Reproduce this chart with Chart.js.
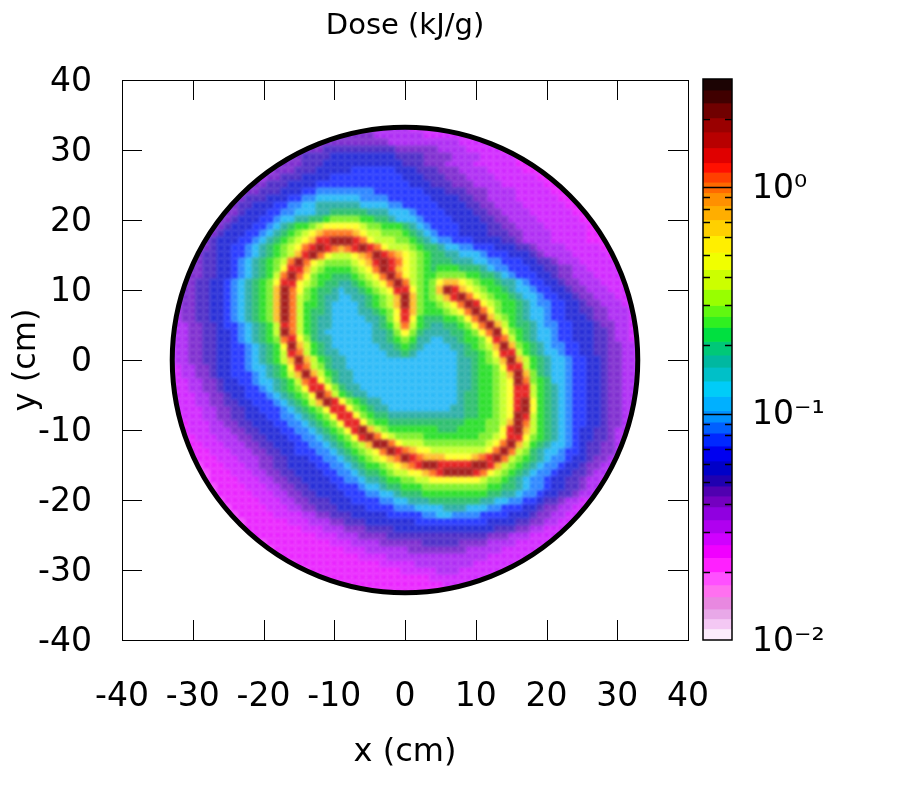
<!DOCTYPE html>
<html>
<head>
<meta charset="utf-8">
<title>Dose map</title>
<script src="https://cdn.jsdelivr.net/npm/chart.js@4"></script>
<style>
  body { margin: 0; background: #fff; }
  #wrap { position: relative; width: 900px; height: 800px; }
  canvas { position: absolute; left: 0; top: 0; }
</style>
</head>
<body>
<div id="wrap">
  <canvas id="mapChart" width="900" height="800"></canvas>
  <canvas id="barChart" width="900" height="800"></canvas>
</div>
<script>
const axisTicks = [-40, -30, -20, -10, 0, 10, 20, 30, 40];
const doseTicks = [0.01, 0.1, 1];
const doseLabels = ['10\u207B\u00B2', '10\u207B\u00B9', '10\u2070'];
const minorTicks = [0.02, 0.03, 0.04, 0.05, 0.06, 0.07, 0.08, 0.09, 0.2, 0.3, 0.4, 0.5, 0.6, 0.7, 0.8, 0.9, 2];

// colour of each dose level in the map, low to high
const levelColors = ['#f458ff', '#ea28ff', '#d22cff', '#b030f4', '#8030d0', '#5030c8', '#2a30d8', '#2a3cff', '#3088ff', '#30bcf8',
  '#30b0a8', '#30c070', '#30e030', '#80f030', '#c8ff30', '#ffff30', '#ffc030', '#ff7a28', '#e82828', '#a52020'];

// colour bar bands, top to bottom
const barEdges = [3, 2.68, 2.35, 2.02, 1.75, 1.49, 1.28, 1.16, 1.05, 0.944, 0.827, 0.717, 0.61, 0.514, 0.432, 0.353, 0.3, 0.268, 0.24, 0.208, 0.181, 0.16,
  0.139, 0.119, 0.103, 0.0916, 0.0819, 0.0718, 0.0617, 0.0535, 0.0478, 0.0432, 0.0387, 0.0339, 0.0297, 0.0263, 0.0231, 0.02, 0.0175, 0.0155, 0.0137, 0.0124, 0.0112, 0.01];
const barColors = ['#1c0404', '#400000', '#700000', '#9a0000', '#b80000', '#e00000', '#ff1000', '#ff4000', '#ff6a00', '#ff9000', '#ffae00', '#ffd000', '#ffef00',
  '#f0ff00', '#ccff00', '#98ff00', '#60f810', '#30f020', '#00e040', '#00c878', '#00b8a0', '#00c0c8', '#00ccf8', '#00b0ff', '#0090ff', '#0060ff', '#0028ff',
  '#0000f0', '#0000c8', '#2000b0', '#5000b0', '#7400c0', '#9000e0', '#b000f0', '#d000ff', '#f000ff', '#ff20ff', '#ff50ff', '#ff70f0', '#e888e0', '#e8a8e8', '#f4c8f4', '#fcecfc'];

// dose level per 1 cm cell. First row is y = 33, last is y = -33, each row centred on x = 0
const doseRows = [
[3,3,3,3,3,3,3,3,3,3,2,2,2,2,2,2,2,2,2],
[4,4,4,4,4,4,4,4,3,3,3,3,3,3,3,2,2,2,2,2,2,1,1,1,1],
[4,4,4,4,4,4,4,4,4,4,4,4,3,3,3,3,3,3,3,3,3,3,2,2,2,2,2,1,1],
[4,4,4,4,4,5,5,5,5,5,5,5,5,5,5,4,4,4,4,4,4,3,3,3,3,2,2,2,2,2,1,1,1],
[4,4,4,4,5,5,5,5,6,6,6,6,6,6,6,6,6,5,5,5,5,4,4,4,4,3,3,3,3,2,2,2,2,2,1,1,1],
[3,3,3,4,4,4,5,5,5,6,6,6,6,6,6,6,6,6,6,6,5,5,5,4,4,4,3,3,3,3,2,2,2,2,2,2,1,1,1,1,1],
[3,3,3,4,4,4,5,5,5,6,6,6,6,6,7,7,7,7,7,7,6,6,6,5,5,5,4,4,4,3,3,3,3,2,2,2,2,2,1,1,1,1,1],
[3,3,3,4,4,5,5,5,6,6,6,6,7,7,7,7,7,7,7,7,7,7,6,6,6,5,5,5,4,4,4,3,3,3,3,2,2,2,2,2,2,1,1,1,1],
[3,3,3,4,4,5,5,5,6,6,6,6,7,7,7,7,7,7,7,7,7,7,7,7,7,6,6,6,5,5,5,4,4,4,3,3,3,3,2,2,2,2,2,2,1,1,1,1,1],
[3,3,3,4,4,5,5,5,6,6,6,7,7,8,8,8,8,8,8,8,8,7,7,7,7,7,7,7,6,6,6,5,5,5,4,4,4,3,3,3,3,2,2,2,2,2,1,1,1,1,1],
[3,3,4,4,5,5,5,6,6,6,7,7,8,8,9,9,9,9,9,9,8,8,8,8,7,7,7,7,7,7,6,6,6,6,5,5,4,4,3,3,3,3,2,2,2,2,2,2,1,1,1,1,1],
[3,4,4,5,5,6,6,6,7,7,8,8,9,9,10,10,10,10,10,10,9,9,9,9,8,8,7,7,7,7,7,6,6,6,6,5,5,4,4,3,3,3,3,2,2,2,2,2,2,1,1,1,1],
[3,3,4,4,5,6,6,6,7,7,8,8,9,9,9,10,10,11,11,11,11,11,10,10,10,9,9,9,8,7,7,7,7,6,6,6,6,5,5,4,4,3,3,3,3,2,2,2,2,2,2,1,1,1,1],
[3,3,4,4,5,6,6,6,7,7,8,9,9,10,10,11,11,12,13,13,13,13,12,12,11,11,10,9,9,9,8,7,7,7,7,6,6,6,6,5,5,4,4,3,3,3,3,2,2,2,2,2,2,1,1,1,1],
[3,3,4,4,5,6,6,6,7,7,8,9,10,11,12,12,13,14,15,15,15,15,15,14,13,13,12,12,12,11,10,9,8,7,7,7,7,6,6,6,6,5,5,4,4,3,3,3,3,2,2,2,2,2,2,1,1,1,1],
[3,3,4,5,6,6,6,7,7,8,9,10,11,12,13,14,15,16,17,17,17,17,16,15,14,14,13,13,13,12,11,10,9,8,7,7,7,6,6,6,6,5,5,5,4,4,3,3,3,3,2,2,2,2,2,1,1,1,1],
[3,3,4,5,6,6,6,7,7,8,9,10,11,12,13,14,15,16,18,18,19,19,19,18,17,15,14,14,14,13,13,12,11,10,9,8,8,7,7,7,6,6,6,6,5,5,4,3,3,3,3,2,2,2,2,2,1,1,1,1,1],
[3,4,4,5,6,6,7,7,8,9,10,11,12,13,14,15,17,18,19,18,17,16,17,18,19,18,17,15,14,14,14,13,12,11,11,10,9,9,8,8,7,7,7,6,6,6,5,5,4,3,3,3,3,2,2,2,2,2,1,1,1],
[3,3,4,5,5,6,6,7,7,8,9,10,11,12,13,14,16,18,19,17,15,14,14,14,15,16,17,19,18,17,16,15,14,13,12,11,11,10,10,9,9,9,8,7,7,7,6,6,6,5,4,3,3,3,3,2,2,2,2,2,1,1,1],
[3,4,4,5,5,6,6,7,8,9,10,11,12,13,14,17,19,17,15,14,13,13,13,13,14,15,16,18,19,18,17,15,14,13,12,11,11,11,10,10,10,9,9,8,8,7,7,7,6,6,5,5,4,3,3,3,2,2,2,2,2,1,1],
[3,3,4,4,5,5,6,6,7,8,9,10,11,12,13,15,18,18,16,14,13,12,12,12,12,13,14,15,17,19,18,16,15,14,13,12,11,12,12,12,11,11,11,10,9,8,8,7,7,7,6,6,5,5,4,4,3,3,2,2,2,2,2,1,1],
[3,3,4,4,5,5,6,6,7,8,9,10,11,12,14,17,19,17,15,13,12,12,11,11,11,12,13,14,15,17,19,17,15,14,13,12,12,13,13,13,13,12,12,11,11,10,9,8,7,7,7,6,6,5,4,4,3,3,3,2,2,2,2,1,1],
[3,3,4,4,5,5,6,6,7,8,9,10,11,12,13,15,18,18,15,14,13,12,11,11,10,10,11,12,13,14,15,17,19,17,14,13,12,13,15,16,16,15,14,13,12,12,11,10,10,9,8,7,7,6,6,5,4,4,3,3,3,2,2,2,1,1,1],
[3,3,4,4,5,5,6,6,7,8,9,10,11,12,13,16,19,17,15,13,12,11,11,10,9,10,10,11,12,13,14,15,18,18,15,13,12,13,16,19,18,16,15,14,13,12,12,11,10,9,9,8,7,7,6,6,5,4,4,3,3,3,2,2,2,1,1],
[3,3,4,4,5,5,6,6,7,8,9,10,11,12,13,16,19,17,14,13,12,11,10,10,9,9,10,10,11,12,13,14,16,19,16,13,12,13,14,16,18,19,17,15,14,13,12,12,11,10,9,9,8,7,7,6,6,5,4,4,3,3,3,2,2,2,1],
[3,3,4,4,5,5,6,6,7,8,9,10,11,12,13,16,19,17,14,12,12,11,10,9,9,9,9,10,11,12,13,14,16,19,16,13,12,12,13,14,15,17,19,18,15,14,13,12,12,11,10,9,8,8,7,7,6,6,5,4,4,3,3,3,2,2,2],
[3,3,3,4,4,5,5,6,6,7,8,9,10,11,12,13,16,19,17,14,12,11,11,10,9,9,9,9,10,10,11,12,13,15,18,16,13,12,12,12,13,14,15,17,19,17,15,13,12,12,11,10,9,9,8,7,7,6,6,5,5,4,4,3,3,3,2,2,2],
[3,3,3,4,4,5,5,6,6,7,8,9,10,11,12,13,16,19,17,14,12,11,10,10,9,9,9,9,9,10,10,11,13,15,18,15,12,11,11,11,12,12,13,15,17,19,16,14,13,12,11,10,9,9,8,7,7,6,6,6,5,4,4,3,3,3,2,2,2],
[3,3,3,3,4,4,5,5,6,7,7,8,9,10,11,12,14,18,17,14,12,11,10,10,9,9,9,9,9,9,10,11,12,14,17,14,12,11,10,10,11,11,12,13,15,17,19,16,14,12,11,11,10,9,8,8,7,7,6,6,6,5,4,4,3,3,2,2,2],
[3,3,3,3,4,4,5,5,6,6,7,8,9,10,11,12,14,19,17,14,12,11,10,9,9,9,9,9,9,9,10,10,11,13,15,13,11,10,10,10,10,11,11,12,13,15,17,19,15,13,12,11,10,9,9,8,7,7,6,6,6,5,5,4,3,3,2,2,2],
[2,3,3,3,4,4,5,5,6,6,7,8,9,10,11,12,13,17,18,15,13,11,10,10,9,9,9,9,9,9,10,10,11,12,13,12,10,10,9,9,10,10,11,12,12,13,15,18,17,14,12,11,10,9,9,8,7,7,6,6,6,5,5,4,3,3,2,2,2],
[2,2,3,3,4,4,5,5,6,6,7,7,8,9,10,11,12,15,19,16,14,12,11,10,9,9,9,9,9,9,9,10,10,11,12,11,10,9,9,9,9,10,10,11,12,13,14,16,19,16,13,12,11,10,9,8,8,7,7,6,6,5,5,4,4,3,3,2,2],
[2,2,3,3,4,4,5,5,6,6,7,7,8,9,10,11,12,14,18,17,14,12,11,10,10,9,9,9,9,9,9,9,10,10,11,10,9,9,9,9,9,9,10,11,11,12,13,15,18,18,14,12,11,10,9,9,8,7,7,6,6,5,5,4,4,3,3,2,2],
[2,2,3,3,4,4,5,5,6,6,7,7,8,9,10,11,12,14,16,19,16,14,12,11,10,10,9,9,9,9,9,9,9,9,9,9,9,9,9,9,9,9,10,10,11,12,13,14,16,19,16,14,12,11,10,9,9,8,7,7,6,6,5,4,4,3,3,2,2],
[2,2,2,3,3,4,4,5,6,6,7,7,8,9,9,10,11,12,15,18,17,14,13,11,10,10,9,9,9,9,9,9,9,9,9,9,9,9,9,9,9,9,10,10,11,12,12,13,15,18,18,14,12,11,10,9,9,8,7,7,6,6,5,4,4,3,3,3,2],
[2,2,2,3,3,4,4,5,6,6,7,7,7,8,9,10,11,12,14,16,19,16,14,12,11,10,10,9,9,9,9,9,9,9,9,9,9,9,9,9,9,9,10,10,11,12,12,13,14,16,19,16,13,11,10,9,9,8,7,7,6,6,5,4,4,3,3,3,2],
[2,2,2,2,3,3,4,4,5,6,6,7,7,8,9,9,10,11,12,14,17,18,15,13,11,10,10,9,9,9,9,9,9,9,9,9,9,9,9,9,9,9,10,10,11,12,12,13,14,15,19,17,13,12,11,9,9,8,7,7,6,6,5,4,4,3,3,3,3],
[2,2,2,2,3,3,4,4,5,6,6,6,7,7,8,9,10,11,12,13,15,18,18,15,13,11,10,10,9,9,9,9,9,9,9,9,9,9,9,9,9,9,10,10,11,12,12,13,14,15,18,18,14,12,11,10,9,8,7,7,6,6,5,4,4,3,3,3,3],
[2,2,2,2,2,3,3,4,4,5,6,6,7,7,7,8,9,10,11,12,13,15,19,17,14,12,11,10,10,9,9,9,9,9,9,9,9,9,9,9,9,9,10,11,11,12,12,13,14,15,18,18,14,12,11,10,9,8,7,7,6,6,5,4,4,3,3,3,3],
[1,2,2,2,2,3,3,4,4,5,5,6,6,7,7,7,8,9,10,11,12,14,16,19,18,15,13,12,11,10,10,9,9,9,9,9,9,9,9,9,9,9,10,11,11,12,12,13,14,15,18,19,15,12,11,10,9,8,7,7,6,6,5,4,4,3,3,3,3],
[1,1,2,2,2,2,3,3,4,4,5,5,6,6,7,7,7,8,9,10,11,12,13,15,18,18,15,13,12,11,10,10,9,9,9,9,9,9,9,9,9,10,10,11,11,12,12,13,14,15,18,19,15,12,11,10,9,8,7,7,6,6,5,4,4,3,3,3,3],
[1,1,2,2,2,3,3,4,4,5,5,6,6,6,7,7,8,8,9,10,11,12,13,15,18,18,15,13,12,11,11,10,10,10,10,10,10,10,10,10,10,10,11,11,12,12,13,14,15,19,18,14,12,11,10,9,8,7,7,6,6,5,4,4,3,3,3],
[1,1,1,2,2,2,3,3,4,4,5,5,6,6,6,7,7,8,8,9,10,11,12,13,15,18,18,15,13,12,12,11,11,11,11,11,11,11,11,11,11,11,12,12,12,13,13,14,16,19,17,14,12,11,10,9,8,7,7,6,6,5,4,4,3,3,3],
[1,1,1,2,2,2,3,3,3,4,4,5,5,6,6,6,7,7,8,8,9,10,11,12,13,15,18,19,16,14,13,12,12,12,12,12,12,12,11,11,11,12,12,12,12,13,13,15,18,19,16,14,12,11,10,9,8,7,6,6,5,5,4,3,3,3,2],
[1,1,1,1,2,2,2,3,3,3,4,4,5,5,6,6,6,7,7,8,8,9,10,11,12,13,15,18,19,17,15,14,13,13,13,13,12,12,12,12,12,12,12,12,13,13,14,15,18,18,15,13,12,11,10,9,8,7,6,6,5,5,4,3,3,3,2],
[1,1,1,1,2,2,2,3,3,3,4,4,5,5,6,6,6,7,7,8,8,9,10,11,12,13,14,16,19,19,17,15,14,14,14,13,13,13,13,13,13,13,13,13,14,15,17,19,16,14,12,11,10,9,9,8,7,6,5,5,4,4,3,3,2],
[1,1,1,1,1,2,2,2,3,3,3,4,4,5,5,6,6,7,7,7,8,8,9,10,11,12,13,14,15,17,19,18,17,16,15,15,14,14,14,14,14,14,14,14,15,17,19,17,14,13,11,10,9,9,8,7,7,6,5,5,4,4,3,3,2],
[1,1,1,1,1,2,2,2,3,3,3,4,4,5,5,6,6,6,7,7,8,8,9,10,11,12,13,14,15,16,17,19,18,17,16,16,16,15,15,15,15,16,17,18,19,17,14,13,12,11,10,9,8,8,7,6,6,5,4,4,3,3,2],
[0,0,0,1,1,1,2,2,2,3,3,4,4,5,5,6,6,6,6,7,7,8,8,9,10,11,12,12,13,14,15,16,17,18,19,19,18,18,18,18,18,19,19,18,16,14,13,12,11,10,9,8,8,7,6,6,5,4,4,3,3,2,2],
[0,0,0,1,1,1,2,2,2,3,3,4,4,5,5,6,6,6,6,7,7,8,8,9,10,11,11,12,13,14,14,15,15,16,17,18,19,19,19,19,18,17,15,14,13,12,11,10,9,8,8,7,6,6,5,5,4,3,3,2,2],
[0,0,0,1,1,1,1,2,2,2,3,3,4,4,5,5,6,6,6,6,7,7,8,8,9,10,10,11,12,12,13,13,14,14,15,15,15,15,15,15,15,14,13,13,12,11,10,9,8,8,7,6,6,5,5,4,3,3,2,2,2],
[0,0,0,1,1,1,1,2,2,2,3,3,4,4,5,5,6,6,6,6,7,7,7,8,9,9,10,11,11,12,12,12,13,13,13,13,13,13,13,13,13,12,12,11,11,10,9,8,8,7,6,6,5,5,4,3,3,2,2],
[0,0,0,1,1,1,1,1,2,2,2,3,3,4,4,5,5,6,6,6,6,7,7,7,8,8,9,9,10,11,11,11,12,12,12,12,12,12,12,12,12,11,11,10,10,9,8,8,7,6,6,5,5,4,3,3,2,2,2],
[0,0,0,1,1,1,1,1,2,2,2,3,3,4,4,5,5,5,6,6,6,7,7,7,7,8,8,9,9,10,10,10,11,11,11,11,11,11,11,10,10,9,9,8,8,7,7,6,5,5,4,3,3,2,2,2,2],
[0,0,0,1,1,1,1,1,2,2,2,3,3,4,4,5,5,5,6,6,6,6,7,7,7,7,8,8,8,9,9,9,9,10,10,10,9,9,9,8,8,7,7,7,6,6,5,4,4,3,3,2,2,2,2],
[0,0,0,1,1,1,1,1,2,2,2,2,3,3,4,4,5,5,5,6,6,6,6,6,7,7,7,7,7,8,8,9,9,8,8,8,8,7,7,7,7,6,6,6,5,4,4,3,3,2,2,2,2],
[0,0,0,1,1,1,1,1,1,2,2,2,3,3,3,4,4,5,5,5,6,6,6,6,6,6,6,7,7,7,7,7,7,7,7,7,7,6,6,6,6,5,5,4,4,3,3,2,2,2,2],
[0,0,0,1,1,1,1,1,1,1,1,2,2,2,3,3,3,4,4,4,5,5,5,5,6,6,6,6,6,6,6,6,6,6,6,6,6,6,5,5,5,4,4,3,3,2,2,2,2,2,2],
[0,0,0,1,1,1,1,1,1,1,1,1,2,2,2,3,3,3,4,4,4,4,5,5,5,5,5,5,5,5,5,5,5,5,5,5,4,4,4,3,3,3,2,2,2,2,2,2,2],
[0,0,0,1,1,1,1,1,1,1,1,1,2,2,2,3,3,3,3,4,4,4,4,4,4,5,5,5,5,5,4,4,4,4,3,3,3,3,2,2,2,2,2,2,2],
[0,0,0,1,1,1,1,1,1,1,1,1,1,2,2,2,3,3,3,3,3,3,4,4,4,4,4,4,4,4,3,3,3,3,3,2,2,2,2,2,2,2,2],
[0,0,0,1,1,1,1,1,1,1,1,1,1,1,2,2,2,2,3,3,3,3,3,3,3,3,3,3,3,3,3,3,2,2,2,2,2,2,2,2,2],
[0,0,0,1,1,1,1,1,1,1,1,1,1,1,1,2,2,2,2,2,3,3,3,3,3,3,3,3,2,2,2,2,2,2,2,2,2],
[0,0,0,1,1,1,1,1,1,1,1,1,1,1,1,1,2,2,2,2,2,3,3,3,2,2,2,2,2,2,2,2,2],
[1,1,1,1,1,1,1,1,1,1,1,1,1,1,1,1,1,1,2,2,2,2,2,2,2,2,2,2,2],
[1,1,1,1,1,1,1,1,1,1,1,1,1,1,1,1,1,1,2,2,2,2,2,2,2],
[1,1,1,1,1,1,1,1,1,1,1,1,1,1,1,1,1,1,1]
];
const topRowY = 33;
const discRadius = 32.9;

const fontName = "'DejaVu Sans', sans-serif";

const cells = [];
doseRows.forEach((row, r) => {
    const half = (row.length - 1) / 2;
    row.forEach((level, i) => cells.push({ x: i - half, y: topRowY - r, level }));
});
// low doses first so the thin ridge stays on top
cells.sort((a, b) => a.level - b.level);

// ring + inward ticks, gnuplot style
const framePlugin = {
    id: 'frame',
    beforeDatasetDraw(chart, args) {
        if (args.index !== 1) return;
        const { ctx, scales: { x, y } } = chart;
        const cx = x.getPixelForValue(0), cy = y.getPixelForValue(0);
        ctx.save();
        ctx.beginPath();
        ctx.arc(cx, cy, discRadius * x.width / 80, 0, Math.PI * 2);
        ctx.clip();
        ctx.filter = 'blur(1.5px)';
    },
    afterDatasetDraw(chart, args) {
        if (args.index === 1) chart.ctx.restore();
    },
    afterDraw(chart) {
        const { ctx, chartArea: a, scales: { x, y } } = chart;
        ctx.save();
        ctx.strokeStyle = '#000';
        ctx.lineWidth = 1;
        ctx.beginPath();
        axisTicks.slice(1, -1).forEach(v => {
            const px = Math.round(x.getPixelForValue(v)) + 0.5;
            const py = Math.round(y.getPixelForValue(v)) + 0.5;
            ctx.moveTo(px, a.bottom); ctx.lineTo(px, a.bottom - 20);
            ctx.moveTo(px, a.top); ctx.lineTo(px, a.top + 20);
            ctx.moveTo(a.left, py); ctx.lineTo(a.left + 20, py);
            ctx.moveTo(a.right, py); ctx.lineTo(a.right - 20, py);
        });
        ctx.stroke();
        ctx.strokeRect(a.left + 0.5, a.top + 0.5, a.right - a.left, a.bottom - a.top);
        ctx.restore();
    }
};

const barFramePlugin = {
    id: 'barFrame',
    afterDraw(chart) {
        const { ctx, chartArea: a, scales: { y } } = chart;
        ctx.save();
        ctx.strokeStyle = '#000';
        ctx.lineWidth = 1.5;
        ctx.beginPath();
        [0.1, 1].forEach(v => {
            const py = Math.round(y.getPixelForValue(v)) + 0.5;
            ctx.moveTo(a.left, py); ctx.lineTo(a.right, py);
        });
        minorTicks.forEach(v => {
            const py = Math.round(y.getPixelForValue(v)) + 0.5;
            ctx.moveTo(a.left, py); ctx.lineTo(a.left + 7, py);
            ctx.moveTo(a.right, py); ctx.lineTo(a.right - 7, py);
        });
        ctx.stroke();
        ctx.strokeRect(a.left, a.top, a.right - a.left, a.bottom - a.top);
        ctx.restore();
    }
};

new Chart(document.getElementById('mapChart'), {
    type: 'scatter',
    data: {
        datasets: [
            {
                // black rim of the disc
                data: [{ x: 0, y: 0 }],
                pointStyle: 'circle',
                pointRadius: ctx => discRadius * ctx.chart.scales.x.width / 80,
                pointBorderColor: '#000',
                pointBorderWidth: 5,
                pointBackgroundColor: 'rgba(0,0,0,0)'
            },
            {
                data: cells,
                pointStyle: 'rect',
                pointRadius: ctx => (ctx.chart.scales.x.width / 80 + 1.5) / Math.SQRT2,
                pointBorderWidth: 0,
                pointBackgroundColor: ctx => levelColors[ctx.raw.level]
            }
        ]
    },
    options: {
        responsive: false,
        animation: false,
        events: [],
        layout: { padding: { right: 212 } },
        plugins: {
            legend: { display: false },
            tooltip: { enabled: false },
            title: {
                display: true,
                text: 'Dose (kJ/g)',
                fullSize: false,
                color: '#000',
                font: { family: fontName, size: 29, weight: 'normal', lineHeight: 1.2 },
                padding: { top: 9, bottom: 36.2 }
            }
        },
        scales: {
            x: {
                type: 'linear', min: -40, max: 40,
                grid: { display: false, drawTicks: false },
                border: { display: false },
                afterFit: s => { s.height = 160; },
                afterBuildTicks: s => { s.ticks = axisTicks.map(value => ({ value })); },
                ticks: { color: '#000', padding: 38, maxRotation: 0, autoSkip: false, font: { family: fontName, size: 33 } },
                title: { display: true, text: 'x (cm)', color: '#000', font: { family: fontName, size: 32 }, padding: { bottom: 28 } }
            },
            y: {
                type: 'linear', min: -40, max: 40,
                grid: { display: false, drawTicks: false },
                border: { display: false },
                afterFit: s => { s.width = 122; },
                afterBuildTicks: s => { s.ticks = axisTicks.map(value => ({ value })); },
                ticks: { color: '#000', padding: 30, labelOffset: 2.5, autoSkip: false, font: { family: fontName, size: 33 } },
                title: { display: true, text: 'y (cm)', color: '#000', font: { family: fontName, size: 32 }, padding: { top: 7 } }
            }
        }
    },
    plugins: [framePlugin]
});

new Chart(document.getElementById('barChart'), {
    type: 'bar',
    data: {
        labels: ['dose'],
        datasets: barColors.map((color, i) => ({
            data: [[barEdges[i + 1], barEdges[i]]],
            backgroundColor: color,
            barPercentage: 1,
            categoryPercentage: 1
        }))
    },
    options: {
        responsive: false,
        animation: false,
        events: [],
        layout: { padding: { left: 703, top: 79, bottom: 160 } },
        plugins: { legend: { display: false }, tooltip: { enabled: false } },
        scales: {
            x: { stacked: true, display: false },
            y: {
                type: 'logarithmic', min: 0.01, max: 3, position: 'right',
                grid: { display: false, drawTicks: false },
                border: { display: false },
                afterFit: s => { s.width = 168; },
                afterBuildTicks: s => { s.ticks = doseTicks.map(value => ({ value })); },
                ticks: {
                    color: '#000', padding: 20, labelOffset: 2, autoSkip: false,
                    font: { family: fontName, size: 33 },
                    callback: value => doseLabels[doseTicks.indexOf(value)]
                }
            }
        }
    },
    plugins: [barFramePlugin]
});
</script>
</body>
</html>
